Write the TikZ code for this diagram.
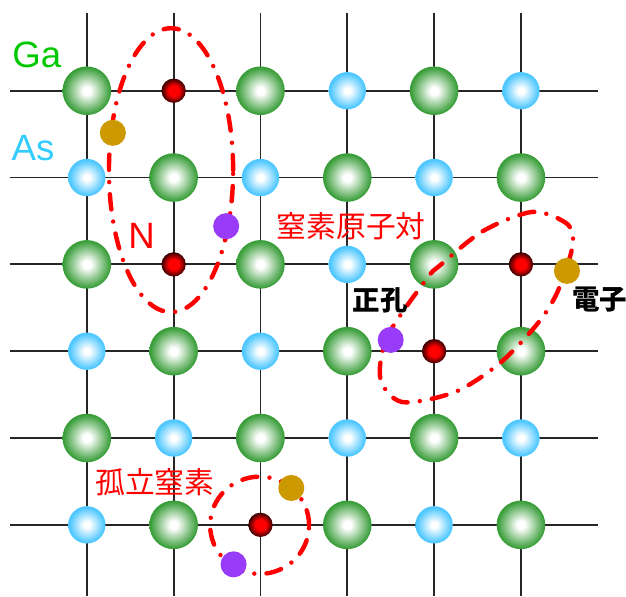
\documentclass[tikz,border=0pt]{standalone}
\usepackage{fontspec}
\setmainfont{Liberation Sans}
\newfontfamily\jpfont{Noto Sans CJK JP}

\definecolor{gagreen}{RGB}{58,158,58}
\definecolor{ascyan}{RGB}{80,200,255}
\definecolor{nred}{RGB}{255,0,0}
\definecolor{ndark}{RGB}{55,0,0}
\definecolor{egold}{RGB}{204,153,0}
\definecolor{hviolet}{RGB}{153,60,250}
\definecolor{gatext}{RGB}{0,200,0}
\definecolor{astext}{RGB}{51,204,255}

% balls: white centre fading out to the rim colour (rim sits at 25bp)
\pgfdeclareradialshading{gaball}{\pgfpoint{0bp}{0bp}}{color(0bp)=(white); color(4bp)=(white); color(24bp)=(gagreen); color(50bp)=(gagreen)}
\pgfdeclareradialshading{asball}{\pgfpoint{0bp}{0bp}}{color(0bp)=(white); color(4bp)=(white); color(23bp)=(ascyan); color(50bp)=(ascyan)}
\pgfdeclareradialshading{nball}{\pgfpoint{0bp}{0bp}}{color(0bp)=(nred); color(11bp)=(nred); color(25bp)=(ndark); color(50bp)=(ndark)}

\def\gaatom(#1,#2){\shade[shading=gaball] (#1,#2) circle (0.56);}
\def\asatom(#1,#2){\shade[shading=asball] (#1,#2) circle (0.43);}
\def\natom(#1,#2){\shade[shading=nball] (#1,#2) circle (0.28);}

\tikzset{
  pairline/.style={red, line width=2.9pt, line cap=round, dash pattern=on 10pt off 8pt on 0pt off 8pt},
  bigjp/.style={inner sep=0pt, text=red, font=\jpfont\fontsize{19.5}{20}\selectfont},
  smalljp/.style={inner sep=0pt, text=black, font=\jpfont\bfseries\fontsize{18}{19}\selectfont},
  element/.style={inner sep=0pt, font=\fontsize{24}{25}\selectfont}
}

\begin{document}
\begin{tikzpicture}
			\useasboundingbox (0, 0.36) rectangle (14.42, 14.09);
			
			% lattice lines
			\draw[line width=1.2pt, black!85] (0.23, 12) -- (13.78, 12);
			\draw[line width=1.2pt, black!85] (0.23, 10) -- (13.78, 10);
			\draw[line width=1.2pt, black!85] (0.23, 8) -- (13.78, 8);
			\draw[line width=1.2pt, black!85] (0.23, 6) -- (13.78, 6);
			\draw[line width=1.2pt, black!85] (0.23, 4) -- (13.78, 4);
			\draw[line width=1.2pt, black!85] (0.23, 2) -- (13.78, 2);
			\draw[line width=1.2pt, black!85] (2, 13.78) -- (2, 0.36);
			\draw[line width=1.2pt, black!85] (4, 13.78) -- (4, 0.36);
			\draw[line width=1.2pt, black!85] (6, 13.78) -- (6, 0.36);
			\draw[line width=1.2pt, black!85] (8, 13.78) -- (8, 0.36);
			\draw[line width=1.2pt, black!85] (10, 13.78) -- (10, 0.36);
			\draw[line width=1.2pt, black!85] (12, 13.78) -- (12, 0.36);
			
			% atoms, row by row
			\gaatom(2,12) \natom(4,12) \gaatom(6,12) \asatom(8,12) \gaatom(10,12) \asatom(12,12)
			\asatom(2,10) \gaatom(4,10) \asatom(6,10) \gaatom(8,10) \asatom(10,10) \gaatom(12,10)
			\gaatom(2,8) \natom(4,8) \gaatom(6,8) \asatom(8,8) \gaatom(10,8) \natom(12,8)
			\asatom(2,6) \gaatom(4,6) \asatom(6,6) \gaatom(8,6) \natom(10,6) \gaatom(12,6)
			\gaatom(2,4) \asatom(4,4) \gaatom(6,4) \asatom(8,4) \gaatom(10,4) \asatom(12,4)
			\asatom(2,2) \gaatom(4,2) \natom(6,2) \gaatom(8,2) \asatom(10,2) \gaatom(12,2)
			
			% nitrogen pairs and the lone one
			\draw[pairline] (3.94, 10.17) ellipse (1.43 and 3.27);
			\draw[pairline] plot[smooth cycle] coordinates {(10.14, 7.98) (11.13, 8.77) (12.28, 9.21) (13.09, 8.91) (13.18, 8.38) (12.83, 7.34) (12.37, 6.62) (11.52, 5.73) (10.48, 5.06) (9.26, 4.83) (8.76, 5.38) (8.94, 6.37) (9.84, 7.68)};
			\draw[pairline] (5.98, 1.99) ellipse (1.14 and 1.12);
			
			% electrons and holes
			\fill[egold] (2.60, 11.03) circle (0.3);
			\fill[egold] (13.06, 7.85) circle (0.3);
			\fill[egold] (6.71, 2.85) circle (0.3);
			\fill[hviolet] (5.21, 8.88) circle (0.3);
			\fill[hviolet] (9.00, 6.26) circle (0.3);
			\fill[hviolet] (5.38, 1.09) circle (0.3);
			
			% labels
			\node[element, text=gatext] (galabel) at (0.85, 12.83) {Ga};
			\node[element, text=astext] (aslabel) at (0.76, 10.68) {As};
			\node[element, text=red] (nlabel) at (3.26, 8.65) {N};
			\node[bigjp] (pairlabel) at (8.09, 8.89) {窒素原子対};
			\node[smalljp] (holelabel) at (8.76, 7.18) {正孔};
			\node[smalljp] (eleclabel) at (13.81, 7.18) {電子};
			\node[bigjp] (lonelabel) at (3.57, 2.98) {孤立窒素};
			
		\end{tikzpicture}
\end{document}
